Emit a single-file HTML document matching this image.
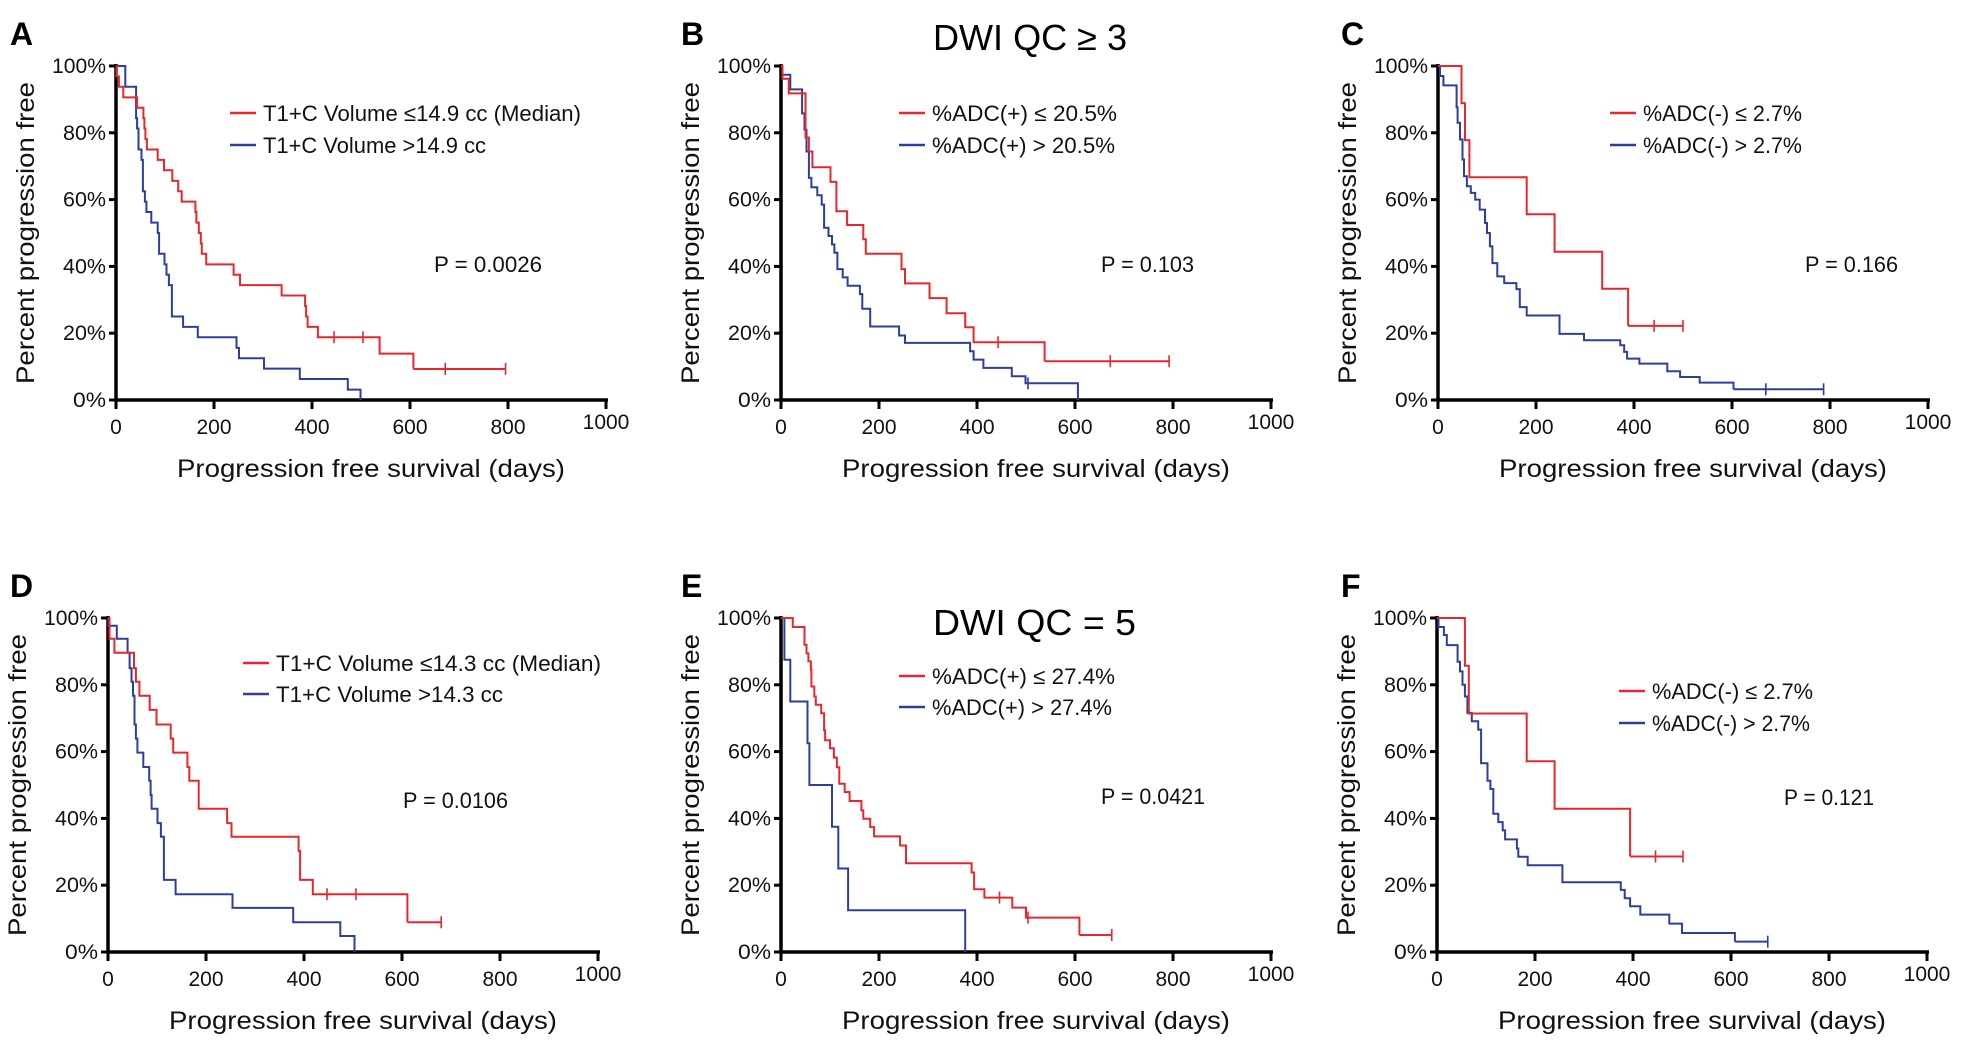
<!DOCTYPE html>
<html><head><meta charset="utf-8"><style>
html,body{margin:0;padding:0;background:#fff;}
svg{display:block;font-family:"Liberation Sans",sans-serif;}
</style></head><body>
<svg id="fig" width="1972" height="1048" viewBox="0 0 1972 1048"></svg>
<script>
// ---- Panel A ----
const aRedT=[1,6,15,43,56,58,60,63,85,98,115,127,134,162,164,169,173,175,184,240,253,338,386,388,391,412,538,607];
const aRedS=[96.9,93.8,90.6,87.5,84.4,81.3,78.1,75,71.9,68.8,65.6,62.5,59.4,56.3,53.1,50,46.9,43.8,40.6,37.5,34.4,31.3,28.1,25,21.9,18.8,13.9,9.3];
const aRedC=[445,504,672,795];
const aBlueT=[19,41,43,46,52,55,59,62,72,85,88,99,103,108,114,137,167,246,251,302,375,473,499];
const aBlueS=[93.8,84.4,81.3,75,71.9,62.5,59.4,56.3,53.1,50,43.8,40.6,37.5,34.4,25,21.9,18.8,15.6,12.5,9.4,6.3,3.1,0];
const aBlueC=[];
// ---- Panel B ----
const bRedT=[3,16,50,57,64,101,113,135,168,173,246,253,303,338,376,393,538];
const bRedS=[96.2,91.8,78.6,74.4,69.7,65.3,56.5,52.4,48.1,43.8,39.2,34.9,30.5,26,21.8,17.3,11.6];
const bRedC=[443,672,792];
const bBlueT=[3,19,43,48,52,57,62,74,83,88,97,104,109,115,126,136,161,166,182,241,253,386,393,413,471,499,606];
const bBlueS=[97.4,93,85.8,80.9,74.4,66.5,63.7,61.3,58.5,51.6,49.1,46.6,44.1,39.2,36.7,34.2,31.7,27.3,22,19.3,17.1,14.6,12.1,9.6,7.1,5,0];
const bBlueC=[504];
// ---- Panel C ----
const cRedT=[48,55,64,181,238,335,388];
const cRedS=[88.9,77.8,66.7,55.6,44.4,33.3,22.2];
const cRedC=[441,500];
const cBlueT=[4,11,38,40,45,50,53,59,67,76,85,96,100,106,111,121,135,160,167,181,248,298,372,380,386,411,468,494,534,603];
const cBlueS=[97,94.2,87.6,83,78,72,67,64,62,60,57,53,50,46,41,37,35,33.2,27.8,25.3,19.8,17.9,16.4,14.4,12.4,10.9,8.6,6.9,5.2,3.2];
const cBlueC=[669,787];
// ---- Panel D ----
const dRedT=[3,13,53,57,64,85,99,128,133,162,166,185,243,252,389,392,418,611];
const dRedS=[93.8,89.6,85,80.9,76.7,72.5,68.1,63.9,59.7,55.4,51.3,42.9,38.6,34.5,30.2,21.6,17.3,8.9];
const dRedC=[447,506,680];
const dBlueT=[1,18,40,44,48,51,54,57,60,72,84,87,89,101,108,114,138,254,378,474,503];
const dBlueS=[97.7,93.8,89.6,85,80.9,76.7,68.1,63.9,59.7,55.4,51.3,47,42.9,38.6,34.5,21.6,17.3,13.2,8.9,4.8,0];
const dBlueC=[];
// ---- Panel E ----
const eRedT=[24,48,52,56,61,62,68,71,82,88,90,100,108,114,119,130,140,164,168,182,190,243,255,389,394,415,472,500,609];
const eRedS=[97.3,92,89.4,87,84.5,79.5,76.5,74,71.5,66.4,63.4,61,58.2,55.3,50.4,47.9,45.2,42.4,39.9,37.4,34.6,31.9,26.6,23.8,18.8,16.3,13.3,10.3,5.1];
const eRedC=[446,504,675];
const eBlueT=[7,19,54,58,104,117,137,376];
const eBlueS=[87.5,75,62.5,50,37.5,25,12.5,0];
const eBlueC=[];
// ---- Panel F ----
const fRedT=[57,65,183,240,394];
const fRedS=[85.7,71.4,57.1,42.9,28.6];
const fRedC=[446,502];
const fBlueT=[3,14,20,42,47,52,57,62,71,84,90,103,109,115,125,134,139,163,166,185,256,375,383,394,415,474,500,608];
const fBlueS=[97.3,94.9,91.9,86.9,84,80,76.5,71.6,69.1,66.6,56.5,51.3,48.8,41.4,38.9,36.4,33.7,31,28.5,26,20.9,18.6,16.1,13.7,11.2,8.5,5.7,3.1];
const fBlueC=[675];
// ---- Axis ticks ----
const xTicks=[0,200,400,600,800,1000];
const yTicks=[0,20,40,60,80,100];

const NS="http://www.w3.org/2000/svg";
const svg=document.getElementById('fig');
const RED="#e8272c", BLUE="#2c3e9e";
function mk(tag,attrs,parent){const e=document.createElementNS(NS,tag);for(const k in attrs)e.setAttribute(k,attrs[k]);(parent||svg).appendChild(e);return e;}
function txt(parent,x,y,s,size,extra){const t=mk('text',Object.assign({x:x,y:y,'font-size':size,fill:'#111'},extra||{}),parent);t.textContent=s;return t;}

const panels=[
 {id:'a',letter:'A',lx0:10,x0:116,y0:400,rT:aRedT,rS:aRedS,rC:aRedC,bT:aBlueT,bS:aBlueS,bC:aBlueC,
  l1:'T1+C Volume ≤14.9 cc (Median)',l2:'T1+C Volume >14.9 cc',w1:318,w2:223,lx:230,ly:113,ly2:145,p:'P = 0.0026',px:434,py:272,pw:108},
 {id:'b',letter:'B',lx0:681,x0:781,y0:400,rT:bRedT,rS:bRedS,rC:bRedC,bT:bBlueT,bS:bBlueS,bC:bBlueC,
  l1:'%ADC(+) ≤ 20.5%',l2:'%ADC(+) > 20.5%',w1:185,w2:183,lx:899,ly:113,ly2:145,p:'P = 0.103',px:1101,py:272,pw:93,title:'DWI QC ≥ 3',ty:50},
 {id:'c',letter:'C',lx0:1341,x0:1438,y0:400,rT:cRedT,rS:cRedS,rC:cRedC,bT:cBlueT,bS:cBlueS,bC:cBlueC,
  l1:'%ADC(-) ≤ 2.7%',l2:'%ADC(-) > 2.7%',w1:159,w2:159,lx:1610,ly:113,ly2:145,p:'P = 0.166',px:1805,py:272,pw:93},
 {id:'d',letter:'D',lx0:10,x0:108,y0:952,rT:dRedT,rS:dRedS,rC:dRedC,bT:dBlueT,bS:dBlueS,bC:dBlueC,
  l1:'T1+C Volume ≤14.3 cc (Median)',l2:'T1+C Volume >14.3 cc',w1:325,w2:227,lx:243,ly:663,ly2:694,p:'P = 0.0106',px:403,py:808,pw:105},
 {id:'e',letter:'E',lx0:681,x0:781,y0:952,rT:eRedT,rS:eRedS,rC:eRedC,bT:eBlueT,bS:eBlueS,bC:eBlueC,
  l1:'%ADC(+) ≤ 27.4%',l2:'%ADC(+) > 27.4%',w1:183,w2:180,lx:899,ly:676,ly2:707,p:'P = 0.0421',px:1101,py:804,pw:104,title:'DWI QC = 5',ty:635},
 {id:'f',letter:'F',lx0:1341,x0:1437,y0:952,rT:fRedT,rS:fRedS,rC:fRedC,bT:fBlueT,bS:fBlueS,bC:fBlueC,
  l1:'%ADC(-) ≤ 2.7%',l2:'%ADC(-) > 2.7%',w1:161,w2:158,lx:1619,ly:691,ly2:723,p:'P = 0.121',px:1784,py:805,pw:90}
];
const W=490,H=334;

function stepPath(T,S,xs,ys){let d='M'+xs(0)+','+ys(100);for(let i=0;i<T.length;i++){d+=' H'+xs(T[i]).toFixed(1)+' V'+ys(S[i]).toFixed(1);}return d;}
function survAt(T,S,t){let s=100;for(let i=0;i<T.length;i++){if(T[i]<=t)s=S[i];}return s;}

panels.forEach(P=>{
  const g=mk('g',{});
  
  
  const xs=v=>P.x0+v/1000*W, ys=v=>P.y0-v/100*H;
  const lt=txt(g,P.lx0,P.y0-355,P.letter,32,{'font-weight':'bold',fill:'#000'});
  
  
  if(P.title){const tt=txt(g,933,P.ty,P.title,36,{textLength:(P.id==='b'?194:203),lengthAdjust:'spacingAndGlyphs',fill:'#000'});
    
    }
  const ax=mk('path',{d:'M'+P.x0+','+(P.y0-H-2)+' V'+P.y0+' H'+(P.x0+W+2),stroke:'#000','stroke-width':3.5,fill:'none'},g);
  
  
  xTicks.forEach(v=>{
    mk('line',{x1:xs(v),x2:xs(v),y1:P.y0,y2:P.y0+9,stroke:'#000','stroke-width':3},g);
    const t=txt(g,xs(v),P.y0+(v===1000?29:34),String(v),21,{'text-anchor':'middle'});
    
    
  });
  yTicks.forEach(v=>{
    mk('line',{x1:P.x0-7,x2:P.x0,y1:ys(v),y2:ys(v),stroke:'#000','stroke-width':3},g);
    const t=txt(g,P.x0-10,ys(v)+7,v+'%',21,{'text-anchor':'end',textLength:(v===100?54:(v===0?33:43)),lengthAdjust:'spacingAndGlyphs'});
    
    
  });
  const xt=txt(g,P.x0+255,P.y0+77,'Progression free survival (days)',25,{'text-anchor':'middle',textLength:388,lengthAdjust:'spacingAndGlyphs'});
  
  
  const yc=P.y0-H/2, yx=P.x0-82;
  const yt=txt(g,yx,yc,'Percent progression free',25,{'text-anchor':'middle',transform:'rotate(-90 '+yx+' '+yc+')',textLength:302,lengthAdjust:'spacingAndGlyphs'});
  
  
  [[P.bT,P.bS,P.bC,BLUE,'blue'],[P.rT,P.rS,P.rC,RED,'red']].forEach(([T,S,C,col,nm])=>{
    const p=mk('path',{d:stepPath(T,S,xs,ys),stroke:col,'stroke-width':2,fill:'none'},g);
    
    
    C.forEach(c=>{
      const s=survAt(T,S,c);
      const m=mk('path',{d:'M'+xs(c)+','+(ys(s)-6)+' V'+(ys(s)+6),stroke:col,'stroke-width':1.6,fill:'none'},g);
      
      
    });
    const last=T[T.length-1], cmax=C.length?Math.max(...C):last;
    if(cmax>last){mk('line',{x1:xs(last),x2:xs(cmax),y1:ys(S[S.length-1]),y2:ys(S[S.length-1]),stroke:col,'stroke-width':2},g);}
  });
  const l1=mk('line',{x1:P.lx,x2:P.lx+26,y1:P.ly,y2:P.ly,stroke:RED,'stroke-width':2.5},g);
  
  
  const t1=txt(g,P.lx+33,P.ly+8,P.l1,22,{textLength:P.w1,lengthAdjust:'spacingAndGlyphs'});
  
  
  const l2=mk('line',{x1:P.lx,x2:P.lx+26,y1:P.ly2,y2:P.ly2,stroke:BLUE,'stroke-width':2.5},g);
  
  
  const t2=txt(g,P.lx+33,P.ly2+8,P.l2,22,{textLength:P.w2,lengthAdjust:'spacingAndGlyphs'});
  
  
  const pv=txt(g,P.px,P.py,P.p,22,{textLength:P.pw,lengthAdjust:'spacingAndGlyphs'});
  
  
});
</script>
</body></html>
